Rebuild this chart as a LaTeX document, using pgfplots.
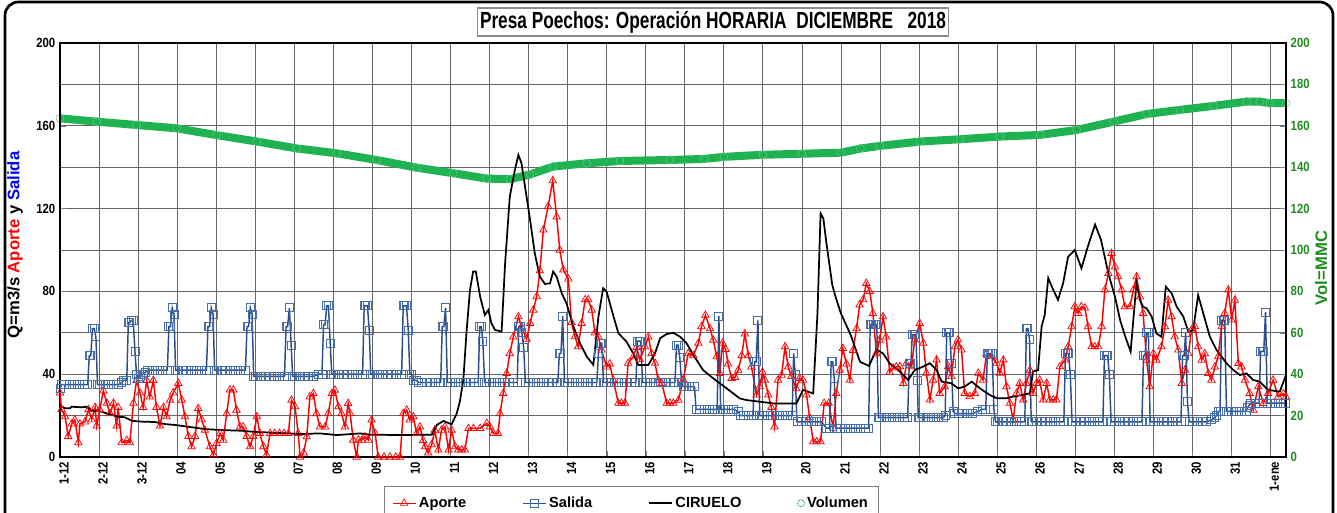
\documentclass[border=0pt]{standalone}
\usepackage{pgfplots}
\pgfplotsset{compat=1.18}
\usepackage{fontspec}
\setmainfont{Liberation Sans}
\newfontfamily\narrowfont{Liberation Sans}[FakeStretch=0.85]
\newfontfamily\titlefont{Liberation Sans}[FakeStretch=0.74]
\definecolor{aporte}{RGB}{255,0,0}
\definecolor{salida}{RGB}{42,78,140}
\definecolor{salidamk}{RGB}{70,110,170}
\definecolor{vol}{RGB}{30,178,80}
\definecolor{volax}{RGB}{30,140,30}

\begin{document}
\begin{tikzpicture}
\pgfplotsset{
  poechos/.style={
    at={(45pt,41.25pt)}, anchor=south west, scale only axis,
    width=919.5pt, height=310.5pt,
    xmin=1, xmax=32.4, ymin=0, ymax=200,
    xtick={1,...,32},
    axis line style={line width=1.2pt},
    tick align=inside,
    /pgf/number format/assume math mode=true,
  },
  ticknum/.style={font=\narrowfont\bfseries\fontsize{10}{11}\selectfont},
}

% right axis: volume and grid
\begin{axis}[poechos,
  ytick={0,20,...,200}, ytick pos=right, yticklabel pos=right,
  xtick pos=bottom, xticklabels={},
  grid=major, major grid style={black!60, line width=0.5pt},
  yticklabel style={ticknum, text=volax},
  ylabel={Vol=MMC},
  ylabel style={font=\bfseries\fontsize{12.5}{14}\selectfont, text=volax,
    at={(rel axis cs:1.0286,0.4565)}, anchor=center},
]
\addplot[vol, line width=6pt, mark=none] coordinates {
(1.0,163.6)(1.94,162)(2.96,160.4)(3.99,158.8)(5.01,155.5)(6.04,152.4)(7.06,149.1)
(8.09,146.7)(9.11,143.5)(10.13,139.8)(11.07,137.1)(11.93,134.5)(12.52,134.2)
(13.04,136.5)(13.63,140.3)(14.49,141.9)(15.34,143)(16.62,143.5)(17.5,144)(18.0,145)
(19.0,146)(20.0,146.5)(21.0,147)(21.5,149)(22.0,150.3)(23.02,152.4)(24.05,153.5)
(25.07,154.8)(26.1,155.6)(27.04,158)(27.98,162)(28.83,165.7)(29.68,167.7)
(30.54,169.6)(31.39,171.7)(31.73,171.7)(31.99,170.9)(32.4,170.9)
};
\addplot[only marks, mark=o, mark size=3pt, mark options={vol!70!white, line width=0.4pt}] coordinates {
(1.0,163.6)(1.94,162)(2.96,160.4)(3.99,158.8)(5.01,155.5)(6.04,152.4)(7.06,149.1)
(8.09,146.7)(9.11,143.5)(10.13,139.8)(11.07,137.1)(11.93,134.5)(12.52,134.2)
(13.04,136.5)(13.63,140.3)(14.49,141.9)(15.34,143)(16.62,143.5)(17.5,144)(18.0,145)
(19.0,146)(20.0,146.5)(21.0,147)(21.5,149)(22.0,150.3)(23.02,152.4)(24.05,153.5)
(25.07,154.8)(26.1,155.6)(27.04,158)(27.98,162)(28.83,165.7)(29.68,167.7)
(30.54,169.6)(31.39,171.7)(31.73,171.7)(31.99,170.9)(32.4,170.9)
};
\end{axis}

% left axis: flows
\begin{axis}[poechos,
  ytick={0,40,...,200}, ytick pos=left,
  xtick pos=bottom,
  xticklabels={1-12,2-12,3-12,04,05,06,07,08,09,10,11,12,13,14,15,16,17,18,19,20,21,22,23,24,25,26,27,28,29,30,31,1-ene},
  xticklabel style={ticknum, rotate=90, anchor=east, yshift=-3pt},
  yticklabel style={ticknum},
  ylabel={Q=m3/s \textcolor{red}{Aporte} y \textcolor{blue}{Salida}},
  ylabel style={font=\bfseries\fontsize{12.5}{14}\selectfont,
    at={(rel axis cs:-0.0367,0.512)}, anchor=center},
  legend style={at={(0.466,-0.07)}, anchor=north, legend columns=4,
    draw=black!50, font=\bfseries\fontsize{11}{13}\selectfont,
    inner ysep=6pt, inner xsep=6pt,
    /tikz/every even column/.append style={column sep=40pt}},
  legend cell align=left,
]
\addplot[aporte, line width=1.1pt, mark=triangle, mark size=3.2pt,
  mark options={solid, aporte, line width=0.55pt}] coordinates {
(1.0,31)(1.04,23)(1.13,19.5)(1.21,10)(1.3,16)(1.38,18)(1.47,7)(1.51,16)(1.64,17)(1.73,23)
(1.81,18)(1.9,24)(1.94,15)(2.02,23)(2.11,32)(2.2,26)(2.28,21)(2.37,26)(2.45,15)(2.49,24)
(2.58,7)(2.71,8)(2.79,7)(2.88,26)(2.96,37)(3.05,31)(3.13,24)(3.22,37)(3.3,29)(3.39,37)
(3.47,24)(3.56,15)(3.65,24)(3.73,19.5)(3.82,27.5)(3.9,31)(4.03,35.6)(4.12,27.5)(4.2,19.5)
(4.29,10)(4.37,5)(4.46,10)(4.54,23.5)(4.63,18)(4.71,13)(4.84,5)(4.93,1)(5.01,6.6)(5.1,11.4)
(5.18,8.2)(5.27,21)(5.35,32.4)(5.44,32.4)(5.52,22.7)(5.61,14.6)(5.69,14.6)(5.78,10)(5.87,5)
(5.95,10)(6.04,19.5)(6.12,11.4)(6.21,5)(6.29,1)(6.38,11.4)(6.5,11.4)(6.62,11.4)(6.74,11.4)
(6.85,11.4)(6.93,27.5)(7.02,24.3)(7.1,11.4)(7.15,0)(7.24,2)(7.32,9.8)(7.4,29.1)(7.49,30.7)
(7.57,21)(7.66,14.6)(7.79,14.6)(7.87,21)(7.96,30.7)(8.04,32.3)(8.13,24.3)(8.21,21)(8.3,14.6)
(8.38,25.9)(8.43,21)(8.51,8.2)(8.6,0)(8.64,8.2)(8.73,8.2)(8.81,9.8)(8.9,8.2)(8.98,17.9)
(9.07,11.4)(9.15,0)(9.3,0)(9.45,0)(9.6,0)(9.71,0)(9.79,21)(9.88,22.7)(9.96,17.9)(10.05,19.5)
(10.13,11.4)(10.22,14.6)(10.3,8)(10.35,5)(10.43,2)(10.52,6)(10.6,13)(10.69,3.4)(10.77,13)
(10.86,14.6)(10.95,3.4)(11.03,13)(11.12,5)(11.2,3.4)(11.29,3.4)(11.37,3.4)(11.46,13.8)
(11.59,13.8)(11.76,13.8)(11.93,16.3)(12.01,14.6)(12.1,11.4)(12.22,11.4)(12.27,21)(12.35,30.7)
(12.44,40.4)(12.52,50)(12.61,58)(12.74,67.8)(12.82,63)(12.95,57)(13.04,64.6)(13.12,71)
(13.21,77.5)(13.29,90)(13.38,109.7)(13.5,121)(13.62,133.5)(13.72,116)(13.8,100)(13.89,90.4)
(14.02,86)(14.1,65)(14.19,58.2)(14.27,53.3)(14.36,64.6)(14.45,76)(14.53,76)(14.62,71)(14.7,60)
(14.79,58.1)(14.87,51.7)(15.0,43.6)(15.08,45)(15.17,37.2)(15.3,26)(15.38,26)(15.47,26)
(15.55,45.3)(15.68,48.5)(15.77,53)(15.85,47)(15.98,53.3)(16.07,58)(16.15,50)(16.24,45.3)
(16.32,37.2)(16.41,35.6)(16.54,26)(16.62,26)(16.71,26)(16.84,27.5)(16.96,37.2)(17.09,50)
(17.22,49)(17.35,55)(17.43,63)(17.53,68.5)(17.65,62)(17.73,56.5)(17.82,48.5)(17.9,40.4)
(17.97,55)(18.05,52)(18.11,45)(18.2,38)(18.29,38.5)(18.37,42)(18.46,49)(18.54,59.5)(18.63,49)
(18.71,43.6)(18.84,30)(18.92,34)(18.99,41)(19.05,37.2)(19.14,30)(19.22,24)(19.3,14.6)
(19.39,37.2)(19.48,39.5)(19.57,53.3)(19.65,43.6)(19.73,39)(19.86,33)(19.94,38)(20.03,37.2)
(20.12,30)(20.2,19)(20.29,7.4)(20.38,7.4)(20.48,7.4)(20.57,26)(20.69,26)(20.8,14)(20.88,30.7)
(20.97,42)(21.05,52.5)(21.14,45)(21.23,37.2)(21.31,51.5)(21.4,62)(21.48,73.5)(21.57,76)
(21.65,83.9)(21.74,80)(21.82,69.4)(21.91,50)(21.99,56.5)(22.08,67.8)(22.16,58)(22.25,41)
(22.34,43)(22.42,43.6)(22.51,43.7)(22.6,35.6)(22.68,45.3)(22.81,43.7)(22.89,56.6)(23.02,64.6)
(23.11,55)(23.19,40.5)(23.28,27.6)(23.36,37.2)(23.45,46.9)(23.53,30.8)(23.66,34)(23.75,43.7)
(23.83,38.9)(23.92,53.3)(24.0,56.6)(24.09,51.7)(24.17,30.8)(24.3,29.2)(24.43,30.8)(24.52,40.5)
(24.64,37.2)(24.73,50)(24.86,48.5)(24.99,45.3)(25.07,40.5)(25.16,46.9)(25.24,34)(25.33,26)
(25.41,17.9)(25.5,30.8)(25.58,35.6)(25.67,27.6)(25.75,35.6)(25.84,42)(25.92,30.8)(26.01,35.6)
(26.09,37.2)(26.18,27.6)(26.27,35.6)(26.35,27.6)(26.44,27.6)(26.52,27.6)(26.61,43.7)
(26.74,46.9)(26.82,53.3)(26.91,63)(26.99,72.7)(27.08,69.4)(27.16,72.7)(27.25,72)(27.33,63)
(27.42,53.3)(27.5,53.3)(27.59,53.3)(27.68,63)(27.76,80.7)(27.85,88.7)(27.93,98.4)(28.02,91.9)
(28.1,87.1)(28.19,80.7)(28.27,72.6)(28.4,72.6)(28.49,80.7)(28.57,87.1)(28.66,77.4)(28.74,69.4)
(28.83,46.8)(28.91,34)(29.0,50)(29.08,46.8)(29.21,53.3)(29.3,63)(29.38,75.8)(29.47,67.8)
(29.55,58.1)(29.64,51.7)(29.73,35.6)(29.81,42)(29.9,50)(29.98,61.3)(30.07,63)(30.15,53.3)
(30.24,46.8)(30.32,50)(30.41,40.4)(30.49,37.2)(30.58,43.6)(30.66,48.5)(30.75,63)(30.83,69.4)
(30.92,80.7)(31.01,66.2)(31.09,75.8)(31.18,45.2)(31.26,43.6)(31.35,37.2)(31.47,30.7)
(31.56,22.7)(31.69,34)(31.82,25.9)(31.94,30.7)(32.07,37.2)(32.2,29.1)(32.33,30.7)(32.4,29)
};
\addplot[salida, line width=1.1pt, mark=square, mark size=3pt,
  mark options={solid, salidamk, line width=0.7pt}] coordinates {
(1.0,33)(1.04,35)(1.125,35)(1.25,35)(1.375,35)(1.5,35)(1.625,35)(1.71,35)(1.75,49)(1.79,49)(1.83,62)(1.875,62)(1.92,58)(1.96,35)
(2.0,35)(2.125,35)(2.25,35)(2.375,35)(2.5,35)(2.58,36)(2.625,37)(2.71,37)(2.75,65)(2.79,65)(2.83,66)(2.875,66)(2.92,51)(2.96,40)
(3.0,38)(3.06,39)(3.125,40)(3.19,41)(3.25,42)(3.375,42)(3.5,42)(3.625,42)(3.75,42)(3.79,63)(3.83,63)(3.875,72)(3.92,69)(3.96,42)
(4.0,42)(4.125,42)(4.25,42)(4.375,42)(4.5,42)(4.625,42)(4.75,42)(4.79,63)(4.83,63)(4.875,72)(4.92,69)(4.96,42)
(5.0,42)(5.125,42)(5.25,42)(5.375,42)(5.5,42)(5.625,42)(5.75,42)(5.79,63)(5.83,63)(5.875,72)(5.92,69)(5.96,39)
(6.0,39)(6.125,39)(6.25,39)(6.375,39)(6.5,39)(6.625,39)(6.75,39)(6.79,63)(6.83,63)(6.875,72)(6.92,54)(6.96,39)
(7.0,39)(7.125,39)(7.25,39)(7.375,39)(7.5,39)(7.625,40)(7.71,40)(7.75,64)(7.79,64)(7.83,73)(7.875,73)(7.92,55)(7.96,40)
(8.0,40)(8.125,40)(8.25,40)(8.375,40)(8.5,40)(8.625,40)(8.75,40)(8.79,73)(8.83,73)(8.875,73)(8.92,61)(8.96,40)
(9.0,40)(9.125,40)(9.25,40)(9.375,40)(9.5,40)(9.625,40)(9.75,40)(9.79,73)(9.83,73)(9.875,73)(9.92,61)(9.96,40)
(10.0,40)(10.06,37)(10.125,37)(10.19,36)(10.25,36)(10.375,36)(10.5,36)(10.625,36)(10.75,36)(10.79,63)(10.83,63)(10.875,72)(10.92,36)
(11.0,36)(11.125,36)(11.25,36)(11.375,36)(11.5,36)(11.625,36)(11.71,36)(11.75,63)(11.79,63)(11.83,56)(11.875,36)
(12.0,36)(12.125,36)(12.25,36)(12.375,36)(12.5,36)(12.625,36)(12.71,36)(12.75,63)(12.79,63)(12.83,60)(12.875,53)(12.92,36)
(13.0,36)(13.125,36)(13.25,36)(13.375,36)(13.5,36)(13.625,36)(13.75,36)(13.79,50)(13.83,50)(13.875,68)(13.92,36)
(14.0,36)(14.125,36)(14.25,36)(14.375,36)(14.5,36)(14.625,36)(14.75,36)(14.79,50)(14.83,55)(14.875,55)(14.92,36)
(15.0,36)(15.125,36)(15.25,36)(15.375,36)(15.5,36)(15.625,36)(15.75,36)(15.79,56)(15.83,56)(15.875,56)(15.92,36)
(16.0,36)(16.125,36)(16.25,36)(16.375,36)(16.5,36)(16.625,36)(16.75,36)(16.79,54)(16.83,54)(16.875,48)(16.92,36)(16.96,34)
(17.0,34)(17.125,34)(17.25,34)(17.29,23)(17.375,23)(17.5,23)(17.625,23)(17.75,23)(17.83,23)(17.875,68)(17.92,23)
(18.0,23)(18.125,23)(18.25,23)(18.375,22)(18.42,20)(18.5,20)(18.625,20)(18.75,20)(18.79,46)(18.83,46)(18.875,66)(18.92,20)
(19.0,20)(19.125,20)(19.25,20)(19.375,20)(19.5,20)(19.625,20)(19.75,20)(19.79,50)(19.83,40)(19.875,17)
(20.0,17)(20.125,17)(20.25,17)(20.375,17)(20.5,17)(20.625,14)(20.71,14)(20.75,46)(20.79,46)(20.83,38)(20.875,14)
(21.0,14)(21.125,14)(21.25,14)(21.375,14)(21.5,14)(21.625,14)(21.71,14)(21.75,64)(21.79,64)(21.83,64)(21.875,64)(21.92,64)(21.96,19)
(22.0,19)(22.125,19)(22.25,19)(22.375,19)(22.5,19)(22.625,19)(22.71,19)(22.75,45)(22.79,45)(22.83,59)(22.875,59)(22.92,59)(22.96,37)(22.98,19)
(23.0,19)(23.125,19)(23.25,19)(23.375,19)(23.5,19)(23.625,19)(23.67,20)(23.71,60)(23.75,60)(23.79,60)(23.83,45)(23.875,22)(23.92,21)
(24.0,21)(24.125,21)(24.25,21)(24.375,21)(24.5,22)(24.625,23)(24.71,23)(24.75,50)(24.79,50)(24.83,50)(24.875,50)(24.92,23)(24.96,17)
(25.0,17)(25.125,17)(25.25,17)(25.375,17)(25.5,17)(25.625,17)(25.71,17)(25.75,62)(25.79,62)(25.83,57)(25.875,17)
(26.0,17)(26.125,17)(26.25,17)(26.375,17)(26.5,17)(26.625,17)(26.71,17)(26.75,50)(26.79,50)(26.83,50)(26.875,40)(26.92,17)
(27.0,17)(27.125,17)(27.25,17)(27.375,17)(27.5,17)(27.625,17)(27.71,17)(27.75,49)(27.79,49)(27.83,49)(27.875,40)(27.92,17)
(28.0,17)(28.125,17)(28.25,17)(28.375,17)(28.5,17)(28.625,17)(28.71,17)(28.75,49)(28.79,49)(28.83,60)(28.875,60)(28.92,17)
(29.0,17)(29.125,17)(29.25,17)(29.375,17)(29.5,17)(29.625,17)(29.71,17)(29.75,49)(29.79,49)(29.83,60)(29.875,27)(29.92,17)
(30.0,17)(30.125,17)(30.25,17)(30.375,17)(30.5,18)(30.56,19)(30.625,20)(30.67,22)(30.71,22)(30.75,66)(30.79,66)(30.83,66)(30.875,22)(30.92,22)
(31.0,22)(31.125,22)(31.25,22)(31.375,22)(31.42,24)(31.46,25)(31.5,26)(31.625,26)(31.71,26)(31.75,51)(31.79,51)(31.83,51)(31.875,70)(31.92,26)
(32.0,26)(32.125,26)(32.25,26)(32.375,26)
};
\addplot[black, line width=1.3pt, mark=none] coordinates {
(1.0,25)(1.13,23.5)(1.26,23.5)(1.3,24.3)(1.55,24)(1.68,24.3)(1.81,22.4)(2.07,21.9)(2.24,20.8)
(2.49,19.5)(2.66,19.2)(2.84,17.5)(3.09,17.1)(3.43,16.9)(3.69,15.9)(3.94,15.5)(4.29,14.6)
(4.71,13.5)(5.14,13)(5.65,12.7)(6.0,12.1)(6.42,11.8)(6.85,11.4)(7.15,11.1)(7.66,11.4)
(8.09,10.6)(8.68,11.4)(8.94,10.8)(9.71,10.6)(10.52,10.8)(10.65,15.5)(10.82,17.4)(11.03,15.8)
(11.16,21)(11.24,26.7)(11.33,37.2)(11.41,60)(11.5,80.7)(11.58,89.6)(11.65,89.6)(11.76,77.5)
(11.88,68.6)(11.97,71)(12.05,64.6)(12.14,61.4)(12.31,60.6)(12.4,93.6)(12.52,125.8)(12.65,138.7)
(12.74,145.9)(12.82,141.9)(12.91,130.6)(13.04,114.5)(13.16,98.4)(13.29,87.1)(13.42,83.6)
(13.55,83.9)(13.63,89.6)(13.72,87.1)(13.85,79.1)(13.97,74.3)(14.15,63)(14.32,54.9)(14.49,48.5)
(14.66,44.5)(14.79,67.8)(14.91,81.5)(15.0,79.9)(15.13,71)(15.3,59.8)(15.51,55.7)(15.68,50.1)
(15.81,44.5)(16.07,44.5)(16.24,50.1)(16.37,57.4)(16.54,59.4)(16.71,60)(16.88,58.1)(17.05,54.9)
(17.22,49.3)(17.47,42)(17.73,38)(18.07,33.2)(18.41,28.3)(18.58,27.5)(18.93,26.7)(19.27,25.9)
(19.86,25.9)(20.03,32.4)(20.29,30.7)(20.4,69.4)(20.48,117.7)(20.55,115.3)(20.63,103.2)
(20.78,83)(20.87,77)(21.0,69.4)(21.25,59)(21.49,46)(21.72,44)(21.91,52)(22.08,50)(22.25,45.2)
(22.51,41.3)(22.72,37.2)(22.89,42)(23.11,43.7)(23.28,45.3)(23.45,42)(23.58,36.4)(23.83,35.6)
(24.0,33.2)(24.17,34)(24.35,36.4)(24.56,33.2)(24.81,30)(24.99,28.4)(25.24,28.4)(25.41,29.2)
(25.67,30)(25.84,30.8)(25.92,41.3)(26.05,42)(26.14,63)(26.22,68.6)(26.31,86.4)(26.44,80.7)
(26.56,75.9)(26.69,83.9)(26.82,96.8)(26.99,100)(27.16,91.2)(27.33,102)(27.51,112.3)(27.66,105)
(27.85,88.7)(28.02,77.4)(28.15,66.2)(28.27,58.9)(28.42,50.9)(28.57,83.9)(28.66,75.8)(28.74,72.6)
(28.83,71.8)(28.96,67.8)(29.08,59.7)(29.21,58.1)(29.32,82.3)(29.47,79.1)(29.6,72.6)(29.77,67.8)
(29.9,60.5)(30.02,61.3)(30.15,78.2)(30.28,69.4)(30.45,58.1)(30.62,51.7)(30.88,45.2)(31.05,42)
(31.22,39.6)(31.39,40.4)(31.56,37.2)(31.73,36.4)(31.94,32.4)(32.24,31.6)(32.4,39.6)
};
\addlegendimage{only marks, mark=o, mark size=2.6pt, vol}
\legend{Aporte, Salida, CIRUELO, Volumen}
\end{axis}

\node[draw=black!45, fill=white, line width=0.8pt, minimum width=349.5pt, minimum height=21pt,
  inner sep=2pt, font=\titlefont\bfseries\fontsize{17.5}{20}\selectfont]
  at (534.75pt,367.5pt) {Presa Poechos: Operación HORARIA~~DICIEMBRE~~~2018};
\draw[line width=2pt, rounded corners=10pt] (3.75pt,-30pt) rectangle (999.75pt,382.5pt);
\pgfresetboundingbox
\useasboundingbox (0,0) rectangle (1002.75pt,384pt);
\end{tikzpicture}
\end{document}
